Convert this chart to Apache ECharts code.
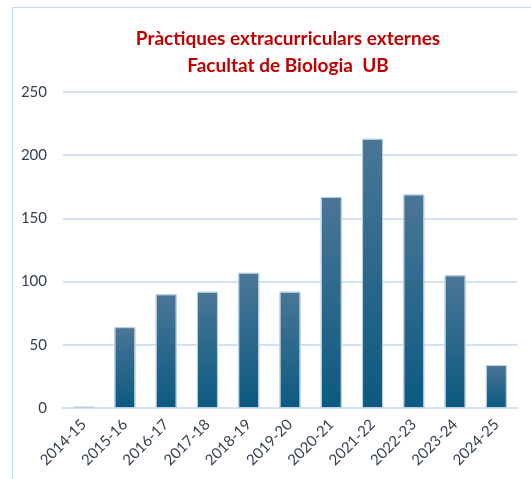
<!DOCTYPE html>
<html>
<head>
<meta charset="utf-8">
<script src="https://cdn.jsdelivr.net/npm/echarts@6/dist/echarts.min.js"></script>
<style>
html,body{margin:0;padding:0;background:#fff;}
#chart{width:531px;height:479px;}
</style>
</head>
<body>
<div id="chart"></div>
<script>
// cursos acadèmics
var cursos = ["2014-15","2015-16","2016-17","2017-18","2018-19","2019-20","2020-21","2021-22","2022-23","2023-24","2024-25"];
// nombre de pràctiques
var practiques = [1, 64, 90, 92, 107, 92, 167, 213, 169, 105, 34];
var titol = "Pràctiques extracurriculars externes\nFacultat de Biologia  UB";

var myChart = echarts.init(document.getElementById('chart'));
var option = {
	backgroundColor: '#fff',
	graphic: [{
		type: 'rect',
		shape: { x: 12.5, y: 7.5, width: 560, height: 520 },
		style: { fill: 'none', stroke: '#c6d9f0', lineWidth: 1 },
		silent: true
	}],
	title: {
		text: titol,
		left: 283,
		textAlign: 'center',
		top: 20,
		textStyle: {
			color: '#c00000',
			fontFamily: 'Lato',
			fontWeight: 'bold',
			fontSize: 19,
			lineHeight: 27
		}
	},
	grid: { left: 63, right: 14, top: 92, bottom: 71 },
	xAxis: {
		type: 'category',
		data: cursos,
		axisLine: { lineStyle: { color: '#d3e2f3', width: 2 } },
		axisTick: { show: false },
		axisLabel: {
			rotate: 45,
			color: '#333f4f',
			fontFamily: 'Lato',
			fontSize: 15,
			margin: 14,
			interval: 0
		}
	},
	yAxis: {
		type: 'value',
		min: 0,
		max: 250,
		interval: 50,
		axisLine: { show: false },
		axisTick: { show: false },
		splitLine: { lineStyle: { color: '#d3e2f3', width: 2 } },
		axisLabel: {
			color: '#333f4f',
			fontFamily: 'Lato',
			fontSize: 15,
			margin: 16
		}
	},
	series: [{
		type: 'bar',
		data: practiques,
		barWidth: 21,
		itemStyle: {
			color: new echarts.graphic.LinearGradient(0, 0, 0, 1, [
				{ offset: 0, color: '#4a7697' },
				{ offset: 1, color: '#0b5a80' }
			]),
			borderColor: '#b9cde0',
			borderWidth: 1
		}
	}]
};
myChart.setOption(option);
</script>
</body>
</html>
